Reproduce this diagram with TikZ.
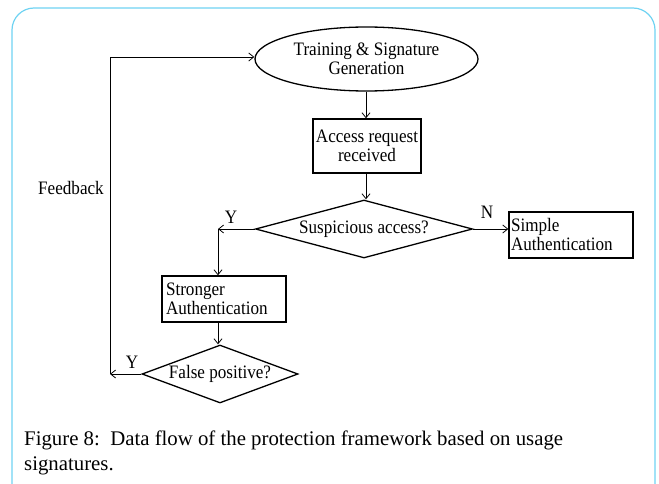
\documentclass[tikz,border=0pt]{standalone}
\usepackage{fontspec}
\setmainfont{Liberation Serif}
\newfontfamily\diagfont{Liberation Serif}[FakeStretch=0.9]
\definecolor{framecyan}{HTML}{6FD3F2}
\usetikzlibrary{shapes.geometric, arrows.meta, positioning}

\begin{document}
\begin{tikzpicture}[
            x=1pt, y=-1pt,
            flowbox/.style={rectangle, draw=black, line width=1.3pt, inner sep=3pt, font=\diagfont\fontsize{19}{19}\selectfont},
            startnode/.style={ellipse, draw=black, line width=1.3pt, minimum width=223pt, minimum height=64pt, inner sep=0pt, align=center, font=\diagfont\fontsize{19}{19}\selectfont},
            decision/.style={diamond, draw=black, line width=1.3pt, inner sep=0pt, font=\diagfont\fontsize{19}{19}\selectfont},
            lbl/.style={font=\diagfont\fontsize{19}{19}\selectfont, inner sep=0pt},
            arrow/.style={-{Straight Barb[length=5pt, width=8pt]}, line width=0.8pt}
        ]
        \useasboundingbox (0,0) rectangle (659,484);
        \clip (0,0) rectangle (659,484);
        % frame of the figure
        \draw [framecyan, line width=1.2pt, rounded corners=22pt] (12,8) rectangle (655,505);

        \node [startnode] (train) at (366.5,59) {Training \& Signature\\ Generation};
        \node [flowbox, minimum width=108pt, minimum height=54pt, align=center] (req) at (367,146) {Access request\\ received};
        \node [decision, aspect=3.74, minimum width=217pt, minimum height=58pt] (susp) at (364,229) {Suspicious access?};
        \node [flowbox, minimum width=124pt, minimum height=46pt, align=left, text width=120pt, inner sep=1pt] (simple) at (571,235) {Simple\\ Authentication};
        \node [flowbox, minimum width=124pt, minimum height=46pt, align=left, text width=116pt] (strong) at (224,299) {Stronger\\ Authentication};
        \node [decision, aspect=2.69, minimum width=156pt, minimum height=58pt] (fpos) at (220,374) {False positive?};

        \coordinate (ybend) at (218,229);
        \coordinate (fback) at (110,374);
        \coordinate (ftop) at (110,57);

        \draw [arrow] (train.south -| 366,0) -- (366,0 |- req.north);
        \draw [arrow] (366,0 |- req.south) -- (366,0 |- susp.north);
        \draw [arrow] (susp.east) -- (susp.east -| simple.west);
        \node [lbl] (nlab) at (487,212) {N};
        \draw [arrow] (susp.west) -- (ybend);
        \node [lbl] (ylab1) at (231,217) {Y};
        \draw [arrow] (ybend) -- (ybend |- strong.north);
        \draw [arrow] (strong.south -| ybend) -- (ybend |- fpos.north);
        \draw [arrow] (fpos.west) -- (fback);
        \node [lbl] (ylab2) at (132,362) {Y};
        \draw [arrow] (fback) -- (ftop) -- (ftop -| train.west);
        \node [lbl] (fblabel) at (71,188) {Feedback};

        % caption
        \node [anchor=base west, inner sep=0pt, font=\fontsize{20.8}{25}\selectfont] (cap1) at (24,445)
            {Figure 8:\ \ Data flow of the protection framework based on usage};
        \node [anchor=base west, inner sep=0pt, font=\fontsize{20.8}{25}\selectfont] (cap2) at (24,470)
            {signatures.};
\end{tikzpicture}
\end{document}
